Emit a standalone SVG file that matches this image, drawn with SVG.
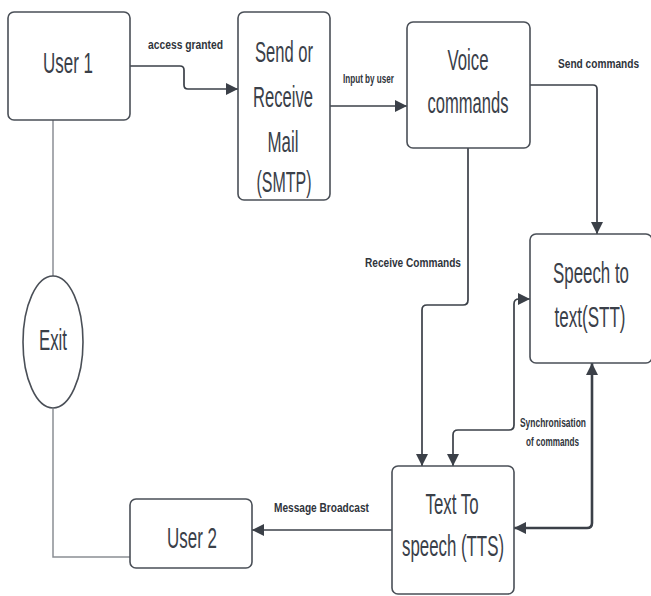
<svg xmlns="http://www.w3.org/2000/svg" width="651" height="596" viewBox="0 0 651 596">
  <defs>
    <style>
      .box { fill: #ffffff; stroke: #4a4f57; stroke-width: 1.6; }
      .node-text { font-family: "Liberation Sans", Arial, sans-serif; font-size: 30px; fill: #3a4049; text-anchor: middle; }
      .label { font-family: "Liberation Sans", Arial, sans-serif; font-weight: bold; font-size: 13px; fill: #2f343b; }
      .wire { fill: none; stroke: #3b4048; stroke-width: 1.7; }
      .wire-thick { fill: none; stroke: #3b4048; stroke-width: 2.6; }
      .wire-grey { fill: none; stroke: #8b8e94; stroke-width: 1.5; }
    </style>
    <marker id="arrow" viewBox="0 0 10 10" refX="10" refY="5" markerUnits="userSpaceOnUse" markerWidth="13" markerHeight="12" orient="auto-start-reverse">
      <path d="M0,0 L10,5 L0,10 z" fill="#3b4048"/>
    </marker>
  </defs>
  <rect width="651" height="596" fill="#ffffff"/>

  <!-- connectors -->
  <g id="connectors">
    <path class="wire" d="M130,66 H180 Q184,66 184,70 V85 Q184,89 188,89 H238" marker-end="url(#arrow)"/>
    <path class="wire" d="M330,106 H407" marker-end="url(#arrow)"/>
    <path class="wire" d="M530,85 H593 Q597,85 597,89 V234" marker-end="url(#arrow)"/>
    <path class="wire" d="M468,148 V300 Q468,305 463,305 H427 Q422,305 422,310 V466" marker-end="url(#arrow)"/>
    <path class="wire" d="M530,299 H519 Q514,299 514,304 V425 Q514,430 509,430 H458 Q453,430 453,435 V466" marker-start="url(#arrow)" marker-end="url(#arrow)"/>
    <path class="wire-thick" d="M592,363 V523 Q592,528 587,528 H514" marker-start="url(#arrow)" marker-end="url(#arrow)"/>
    <path class="wire" d="M392,530 H252" marker-end="url(#arrow)"/>
    <path class="wire-grey" d="M53,120 V276"/>
    <path class="wire-grey" d="M53,409 V557 H130"/>

    <text class="label" x="148" y="49" textLength="75" lengthAdjust="spacingAndGlyphs">access granted</text>
    <text class="label" x="343" y="83" font-size="11" textLength="51" lengthAdjust="spacingAndGlyphs">Input by user</text>
    <text class="label" transform="translate(558,68) scale(0.78,1)">Send commands</text>
    <text class="label" x="365" y="267" textLength="96" lengthAdjust="spacingAndGlyphs">Receive Commands</text>
    <text class="label" x="520" y="427" font-size="12" textLength="66" lengthAdjust="spacingAndGlyphs">Synchronisation</text>
    <text class="label" x="526" y="446" font-size="12" textLength="53" lengthAdjust="spacingAndGlyphs">of commands</text>
    <text class="label" x="274" y="512" textLength="95" lengthAdjust="spacingAndGlyphs">Message Broadcast</text>
  </g>

  <g id="user1">
    <rect class="box" x="8" y="12" width="122" height="108" rx="6"/>
    <text class="node-text" x="68" y="73" textLength="50" lengthAdjust="spacingAndGlyphs">User 1</text>
  </g>

  <g id="smtp">
    <rect class="box" x="238" y="12" width="92" height="188" rx="6"/>
    <text class="node-text" x="284" y="62" textLength="58" lengthAdjust="spacingAndGlyphs">Send or</text>
    <text class="node-text" x="283" y="107" textLength="60" lengthAdjust="spacingAndGlyphs">Receive</text>
    <text class="node-text" x="283" y="152" textLength="31" lengthAdjust="spacingAndGlyphs">Mail</text>
    <text class="node-text" x="284" y="192" textLength="55" lengthAdjust="spacingAndGlyphs">(SMTP)</text>
  </g>

  <g id="voice">
    <rect class="box" x="407" y="22" width="123" height="126" rx="6"/>
    <text class="node-text" x="468" y="70" textLength="41" lengthAdjust="spacingAndGlyphs">Voice</text>
    <text class="node-text" x="468" y="113" textLength="81" lengthAdjust="spacingAndGlyphs">commands</text>
  </g>

  <g id="stt">
    <rect class="box" x="530" y="234" width="122" height="129" rx="6"/>
    <text class="node-text" transform="translate(591,283) scale(0.563,1)">Speech to</text>
    <text class="node-text" transform="translate(590,327) scale(0.568,1)">text(STT)</text>
  </g>

  <g id="tts">
    <rect class="box" x="392" y="466" width="122" height="128" rx="6"/>
    <text class="node-text" x="452" y="514" textLength="53" lengthAdjust="spacingAndGlyphs">Text To</text>
    <text class="node-text" x="453" y="556" textLength="102" lengthAdjust="spacingAndGlyphs">speech (TTS)</text>
  </g>

  <g id="user2">
    <rect class="box" x="130" y="499" width="122" height="69" rx="6"/>
    <text class="node-text" x="192" y="548" textLength="50" lengthAdjust="spacingAndGlyphs">User 2</text>
  </g>

  <g id="exit">
    <ellipse class="box" cx="53" cy="342" rx="30" ry="66"/>
    <text class="node-text" x="53" y="350" textLength="28" lengthAdjust="spacingAndGlyphs">Exit</text>
  </g>
</svg>
